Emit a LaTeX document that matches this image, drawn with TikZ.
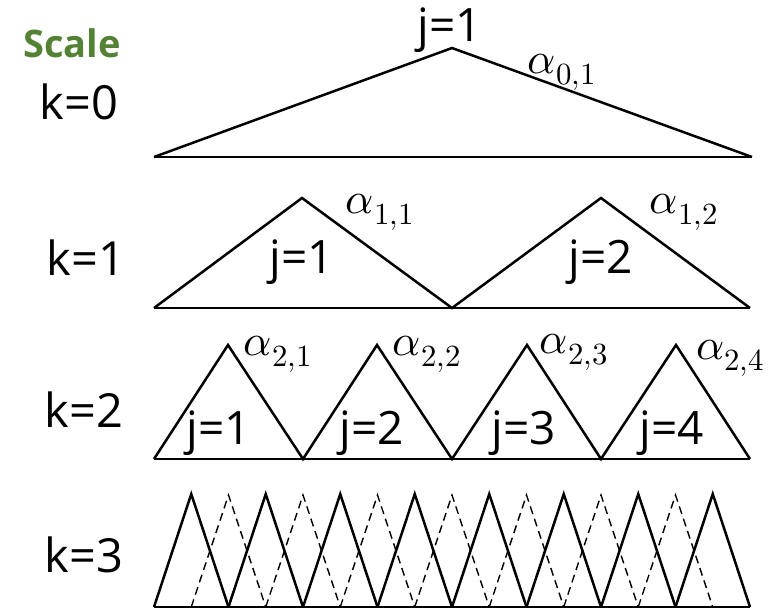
\documentclass[tikz,border=0pt]{standalone}
\usepackage{fontspec}
\usepackage{unicode-math}
\setmainfont{Open Sans}
\setmathfont{Latin Modern Math}
\begin{document}
\begin{tikzpicture}[x=1pt,y=-1pt,
  tri/.style={line width=2.5pt,line join=miter},
  dtri/.style={line width=1.4pt,dash pattern=on 8pt off 5pt},
  base/.style={line width=2.2pt},
  klab/.style={font=\fontsize{47}{52}\selectfont,inner sep=0pt},
  jlab/.style={font=\fontsize{46}{52}\selectfont,inner sep=0pt},
  alab/.style={font=\fontsize{44}{50}\selectfont,inner sep=0pt},
  scl/.style={font=\fontsize{38}{44}\selectfont\bfseries,text=sgreen,inner sep=0pt}]
\definecolor{sgreen}{RGB}{84,130,53}
\useasboundingbox (0,0) rectangle (773,612);
% labels
\node[scl] (scale) at (72,43) {Scale};
\node[klab] (k0) at (79,102) {k=0};
\node[klab] (k1) at (86,258) {k=1};
\node[klab] (k2) at (84,410) {k=2};
\node[klab] (k3) at (84,555) {k=3};
% k=0
\draw[tri] (154,157) -- (452,48) -- (752,157);
\draw[base] (154,157) -- (752,157);
\node[jlab] (j01) at (450,30) {j=1};
\node[alab] (a01) at (562,72) {$\alpha_{0,1}$};
% k=1
\draw[tri] (154,308) -- (302,198) -- (452,308) -- (601,198) -- (750,308);
\draw[base] (154,308) -- (750,308);
\node[jlab] (j11) at (302,262) {j=1};
\node[jlab] (j12) at (601,262) {j=2};
\node[alab] (a11) at (380,212) {$\alpha_{1,1}$};
\node[alab] (a12) at (684,212) {$\alpha_{1,2}$};
% k=2
\draw[tri] (154,459) -- (228,345) -- (303,459) -- (377,345) -- (452,459) -- (527,345) -- (601,459) -- (676,345) -- (750,459);
\draw[base] (154,459) -- (750,459);
\node[jlab] (j21) at (219,433) {j=1};
\node[jlab] (j22) at (372,433) {j=2};
\node[jlab] (j23) at (524,433) {j=3};
\node[jlab] (j24) at (672,433) {j=4};
\node[alab] (a21) at (278,354) {$\alpha_{2,1}$};
\node[alab] (a22) at (427,354) {$\alpha_{2,2}$};
\node[alab] (a23) at (574,352) {$\alpha_{2,3}$};
\node[alab] (a24) at (730,358) {$\alpha_{2,4}$};
% k=3 solid
\foreach \i in {0,...,7} {
  \draw[tri] ({154+74.5*\i},607) -- ({154+74.5*\i+37.25},494) -- ({154+74.5*(\i+1)},607);
}
% k=3 dashed
\foreach \i in {0,...,6} {
  \draw[dtri] ({191.25+74.5*\i},607) -- ({191.25+74.5*\i+37.25},495) -- ({191.25+74.5*(\i+1)},607);
}
\draw[base] (154,607) -- (750,607);
\end{tikzpicture}
\end{document}
